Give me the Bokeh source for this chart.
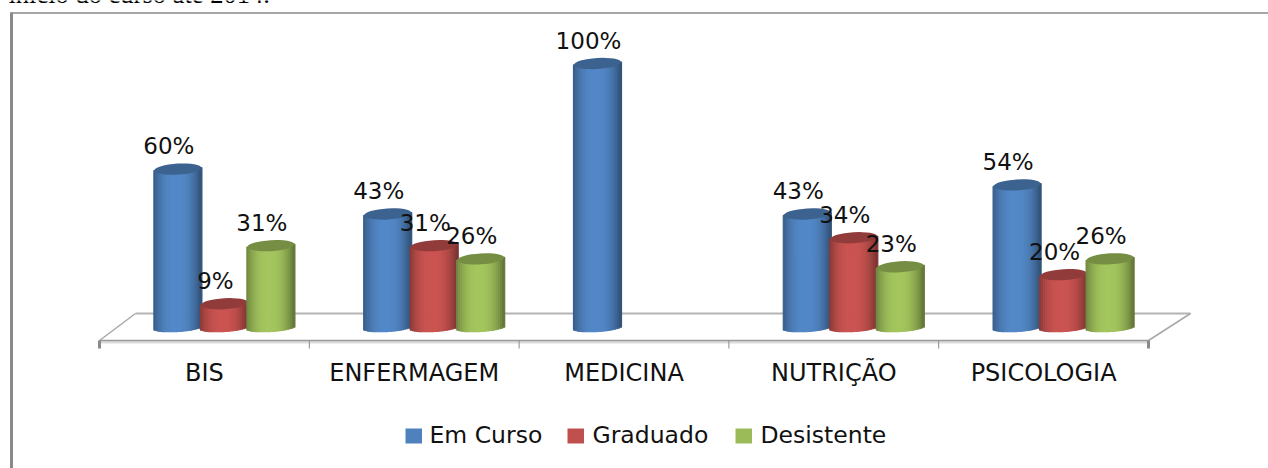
import math
from bokeh.plotting import figure
from bokeh.models import Range1d
from bokeh.core.properties import value
from bokeh.embed import file_html
from bokeh.resources import INLINE

categories = ["BIS", "ENFERMAGEM", "MEDICINA", "NUTRIÇÃO", "PSICOLOGIA"]
em_curso = [60, 43, 100, 43, 54]
graduado = [9, 31, None, 34, 20]
desistente = [31, 26, None, 23, 26]
series_names = ["Em Curso", "Graduado", "Desistente"]
heading = "início do curso até 2014."

W, H = 1268, 468
UX, X0 = 209.8, 99.0      # px per category, px of first tick
UY, Y0 = 2.64, 327.0      # px per percent, px of zero

def X(px): return (px - X0) / UX
def V(py): return (Y0 - py) / UY

p = figure(width=W, height=H, output_backend="svg", toolbar_location=None,
           x_range=Range1d(X(0), X(W)), y_range=Range1d(V(H), V(0)),
           min_border=0, min_border_left=0, min_border_right=0,
           min_border_top=0, min_border_bottom=0,
           outline_line_color=None,
           background_fill_color="white", border_fill_color="white")
p.axis.visible = False
p.grid.visible = False

FONT = value("DejaVu Sans")
INK = "#111111"

def seg(x0, y0, x1, y1, color, w):
    p.line([X(x0), X(x1)], [V(y0), V(y1)], line_color=color, line_width=w)

# page frame
seg(11, 12, 11, H, "#8a8a8a", 3)
seg(10, 12.5, W, 12.5, "#8a8a8a", 1.5)
p.text([X(8)], [V(-6.5)], text=[heading], text_font=value("Liberation Serif"),
       text_font_size="26.5px", text_color="#000000", text_baseline="alphabetic")

# floor
seg(99, 341.5, 1148, 341.5, "#dcdcdc", 3)
seg(99, 340, 1148, 340, "#9a9a9a", 1.5)
seg(135, 313, 1190, 313, "#b4b4b4", 2)
seg(99, 340, 135, 313, "#a8a8a8", 1.5)
seg(1148, 340, 1190, 313, "#a8a8a8", 1.5)
for i in range(len(categories) + 1):
    tx = X0 + UX * i
    seg(tx, 340, tx, 348, "#8a8a8a", 3 if i in (0, 5) else 1)

def shade(rgb, k):
    return "#%02x%02x%02x" % tuple(min(255, int(v * k)) for v in rgb)

palette = [(79, 129, 189), (192, 80, 77), (155, 187, 89)]
CYL_W = 48.0
STRIPS = 24
E_BOT, E_TOP, TILT = 4.0, 5.5, 1.5
GROUP_SHIFT = 20.0
SPACING = 46.5

for s, vals in enumerate([em_curso, graduado, desistente]):
    base = palette[s]
    for i, v in enumerate(vals):
        if v is None:
            continue
        cx = i + 0.5 + (GROUP_SHIFT + (s - 1) * SPACING) / UX
        half = CYL_W / 2 / UX
        L, R, T, B, C = [], [], [], [], []
        for k in range(STRIPS):
            t0 = -1 + 2 * k / STRIPS
            t1 = t0 + 2 / STRIPS
            t = (t0 + t1) / 2
            L.append(cx + t0 * half)
            R.append(cx + t1 * half)
            T.append(v + TILT * t / UY)
            B.append((-E_BOT * math.sqrt(max(0, 1 - t * t)) + TILT * t) / UY)
            bright = 0.66 + 0.40 * (1 - abs(t + 0.05) ** 2.4)
            C.append(shade(base, bright))
        p.quad(left=L, right=R, top=T, bottom=B, fill_color=C, line_color=C, line_width=1.2)
        p.ellipse([cx], [v], width=CYL_W - 1, height=E_TOP * 2, width_units="screen",
                  height_units="screen", angle=0.06, fill_color=shade(base, 0.76), line_color=None)
        p.text([cx], [v], text=[f"{v}%"], x_offset=-9, y_offset=-23,
               text_font=FONT, text_font_size="23px", text_color=INK,
               text_align="center", text_baseline="alphabetic")

# category labels
p.text([i + 0.5 for i in range(len(categories))], [V(372)] * len(categories), text=categories,
       text_font=FONT, text_font_size="24px", text_color=INK,
       text_align="center", text_baseline="alphabetic")

# legend
for name, rgb, sq, tx in zip(series_names, palette, [405, 567, 735], [429, 592, 760]):
    col = "#%02x%02x%02x" % rgb
    p.quad(left=[X(sq)], right=[X(sq + 16.5)], top=[V(428)], bottom=[V(443)],
           fill_color=col, line_color=None)
    p.text([X(tx)], [V(434.5)], text=[name], text_font=FONT, text_font_size="23.5px",
           text_color=INK, text_baseline="alphabetic")

open("out.html", "w").write(file_html(p, INLINE))
